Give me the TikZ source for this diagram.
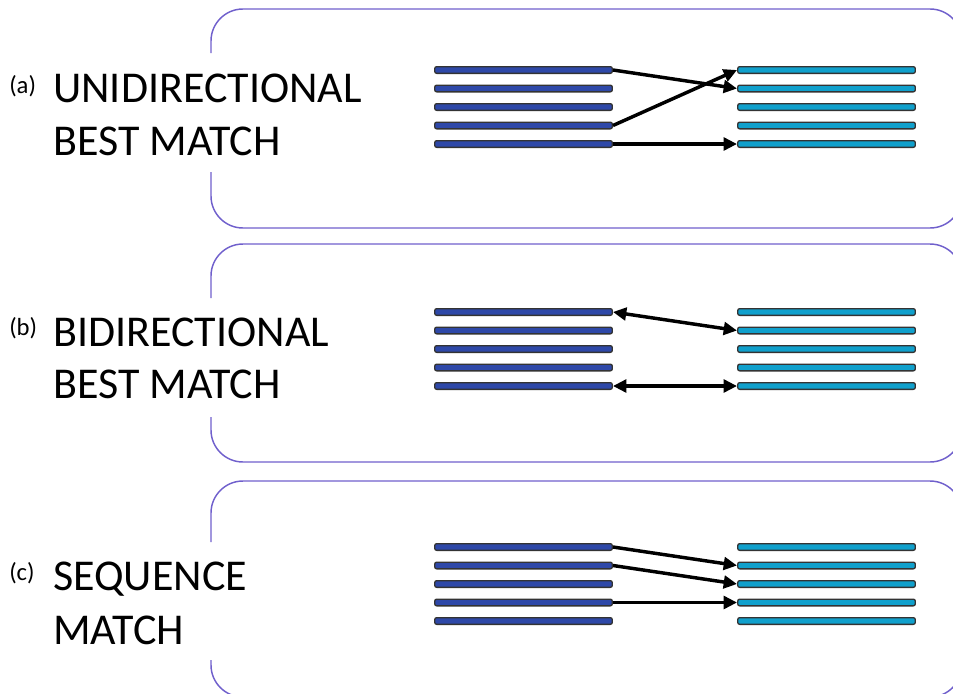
\documentclass[tikz,border=0pt]{standalone}
\usepackage{fontspec}
\setmainfont{Carlito}
\usepackage{tikz}
\usetikzlibrary{shapes,arrows,arrows.meta,positioning}
\definecolor{panelc}{RGB}{112,96,204}
\definecolor{leftc}{RGB}{46,72,168}
\definecolor{rightc}{RGB}{16,160,204}
\tikzstyle{lbar} = [rectangle, rounded corners=1.5pt, draw=black!80, line width=1pt, fill=leftc, minimum width=133.2pt, minimum height=5pt, inner sep=0pt]
\tikzstyle{rbar} = [lbar, fill=rightc]
\tikzstyle{panel} = [draw=panelc, line width=1.1pt, rounded corners=24pt]
\tikzstyle{link} = [draw, line width=2.6pt, -{Triangle[length=10pt,width=9.5pt]}]
\tikzstyle{both} = [draw, line width=2.6pt, {Triangle[length=10pt,width=9.5pt]}-{Triangle[length=10pt,width=9.5pt]}]
\tikzstyle{title} = [anchor=base west, inner sep=0pt, font=\fontsize{33}{40}\selectfont]
\tikzstyle{tag} = [anchor=base west, inner sep=0pt, font=\fontsize{18.5}{22}\selectfont]

\begin{document}
\begin{tikzpicture}[x=0.75pt, y=-0.75pt]
			\clip (0,0) rectangle (953,693);

			% panels, open on the left where the titles sit
			\path [panel] (211,53) -- (211,9) -- (962,9) -- (962,228) -- (211,228) -- (211,172);
			\path [panel] (211,298) -- (211,244) -- (962,244) -- (962,462) -- (211,462) -- (211,417);
			\path [panel] (211,542) -- (211,481) -- (962,481) -- (962,697) -- (211,697) -- (211,660);

			% (a)
			\node [tag] (tagA) at (9,93) {(a)};
			\node [title] (uniA) at (53,102) {UNIDIRECTIONAL};
			\node [title] (bestA) at (53,155) {BEST MATCH};
			\node [lbar] (la1) at (523.5, 70) {};
			\node [lbar] (la2) at (523.5, 88.5) {};
			\node [lbar] (la3) at (523.5, 107) {};
			\node [lbar] (la4) at (523.5, 125.5) {};
			\node [lbar] (la5) at (523.5, 144) {};
			\node [rbar] (ra1) at (826.5, 70) {};
			\node [rbar] (ra2) at (826.5, 88.5) {};
			\node [rbar] (ra3) at (826.5, 107) {};
			\node [rbar] (ra4) at (826.5, 125.5) {};
			\node [rbar] (ra5) at (826.5, 144) {};
			\path [link] (la1.east) -- (ra2.west);
			\path [link] (la4.east) -- (ra1.west);
			\path [link] (la5.east) -- (ra5.west);

			% (b)
			\node [tag] (tagB) at (9,335) {(b)};
			\node [title] (biB) at (53,346) {BIDIRECTIONAL};
			\node [title] (bestB) at (53,398) {BEST MATCH};
			\node [lbar] (lb1) at (523.5, 312) {};
			\node [lbar] (lb2) at (523.5, 330.5) {};
			\node [lbar] (lb3) at (523.5, 349) {};
			\node [lbar] (lb4) at (523.5, 367.5) {};
			\node [lbar] (lb5) at (523.5, 386) {};
			\node [rbar] (rb1) at (826.5, 312) {};
			\node [rbar] (rb2) at (826.5, 330.5) {};
			\node [rbar] (rb3) at (826.5, 349) {};
			\node [rbar] (rb4) at (826.5, 367.5) {};
			\node [rbar] (rb5) at (826.5, 386) {};
			\path [both] (lb1.east) -- (rb2.west);
			\path [both] (lb5.east) -- (rb5.west);

			% (c)
			\node [tag] (tagC) at (9,580) {(c)};
			\node [title] (seqC) at (53,590) {SEQUENCE};
			\node [title] (matchC) at (53,644) {MATCH};
			\node [lbar] (lc1) at (523.5, 547) {};
			\node [lbar] (lc2) at (523.5, 565.5) {};
			\node [lbar] (lc3) at (523.5, 584) {};
			\node [lbar] (lc4) at (523.5, 602.5) {};
			\node [lbar] (lc5) at (523.5, 621) {};
			\node [rbar] (rc1) at (826.5, 547) {};
			\node [rbar] (rc2) at (826.5, 565.5) {};
			\node [rbar] (rc3) at (826.5, 584) {};
			\node [rbar] (rc4) at (826.5, 602.5) {};
			\node [rbar] (rc5) at (826.5, 621) {};
			\path [link] (lc1.east) -- (rc2.west);
			\path [link] (lc2.east) -- (rc3.west);
			\path [link] (lc4.east) -- (rc4.west);
		\end{tikzpicture}
\end{document}
